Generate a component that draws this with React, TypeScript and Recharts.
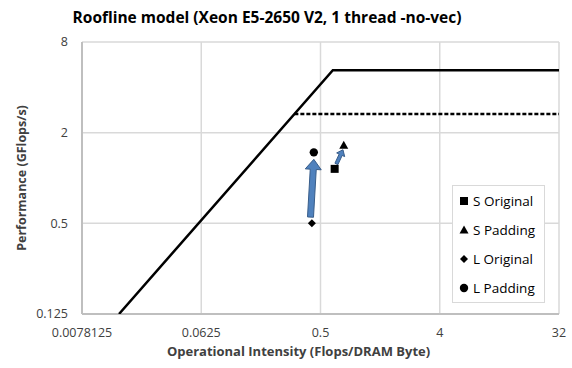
import { ScatterChart, Scatter, XAxis, YAxis, CartesianGrid, ReferenceLine, Legend } from "recharts";

const xTicks = [0.0078125, 0.0625, 0.5, 4, 32];
const yTicks = [0.125, 0.5, 2, 8];

// roofline: memory-bound slope, then compute roof
const roofline = [
  { x: 0.0149, y: 0.125 },
  { x: 0.62, y: 5.2 },
  { x: 32, y: 5.2 },
];
// no-vec ceiling (dashed)
const noVecRoof = [
  { x: 0.317, y: 2.66 },
  { x: 32, y: 2.66 },
];

const sOriginal = [{ x: 0.64, y: 1.15 }];
const sPadding = [{ x: 0.75, y: 1.65 }];
const lOriginal = [{ x: 0.43, y: 0.5 }];
const lPadding = [{ x: 0.445, y: 1.48 }];

const arrowTails = [
  { x: 0.42, y: 0.55 },
  { x: 0.66, y: 1.24 },
];
const arrowTips = [
  { x: 0.445, y: 1.33 },
  { x: 0.74, y: 1.54 },
];

const legendItems = [
  { name: "S Original", shape: "square" },
  { name: "S Padding", shape: "triangle" },
  { name: "L Original", shape: "diamond" },
  { name: "L Padding", shape: "circle" },
];

const FONT = '"Open Sans", "Noto Sans", sans-serif';
const GRID = "#d9d9d9";
const AXIS = "#bfbfbf";
const TEXT = "#404040";

function Marker({ shape, cx, cy }: { shape: string; cx: number; cy: number }) {
  if (shape === "square") return <rect x={cx - 4} y={cy - 4} width={8} height={8} fill="#000" />;
  if (shape === "triangle") return <polygon points={`${cx},${cy - 4.5} ${cx + 4.5},${cy + 3.5} ${cx - 4.5},${cy + 3.5}`} fill="#000" />;
  if (shape === "diamond") return <polygon points={`${cx},${cy - 4} ${cx + 4},${cy} ${cx},${cy + 4} ${cx - 4},${cy}`} fill="#000" />;
  return <circle cx={cx} cy={cy} r={4.2} fill="#000" />;
}

const markerShape = (shape: string) => (props: any) => <Marker shape={shape} cx={props.cx} cy={props.cy} />;

function Arrow(props: any) {
  const { x1, y1, x2, y2 } = props;
  const dx = x2 - x1;
  const dy = y2 - y1;
  const len = Math.sqrt(dx * dx + dy * dy);
  const k = len < 30 ? 0.55 : 1;
  const headL = 10 * k;
  const headW = 8 * k;
  const shaftW = 3 * k;
  const ux = dx / len;
  const uy = dy / len;
  const px = -uy;
  const py = ux;
  const nx = x2 - ux * headL;
  const ny = y2 - uy * headL;
  const pts = [
    [x1 + px * shaftW, y1 + py * shaftW],
    [nx + px * shaftW, ny + py * shaftW],
    [nx + px * headW, ny + py * headW],
    [x2, y2],
    [nx - px * headW, ny - py * headW],
    [nx - px * shaftW, ny - py * shaftW],
    [x1 - px * shaftW, y1 - py * shaftW],
  ]
    .map((p) => p.join(","))
    .join(" ");
  return <polygon points={pts} fill="#4f81bd" stroke="#385d8a" strokeWidth={1} />;
}

function LegendBox() {
  return (
    <div style={{ border: "1px solid #d9d9d9", background: "#fff", width: 91, height: 116 }}>
      <svg width={91} height={116}>
        {legendItems.map((it, i) => (
          <g key={it.name}>
            <Marker shape={it.shape} cx={11} cy={15 + i * 29} />
            <text x={20} y={15 + i * 29} dy="0.35em" fontSize={13.5} fill="#000" fontFamily={FONT}>
              {it.name}
            </text>
          </g>
        ))}
      </svg>
    </div>
  );
}

export default function App() {
  return (
    <div style={{ position: "fixed", left: 0, top: 0, width: 572, height: 368, background: "#fff", fontFamily: FONT }}>
      <div
        style={{
          position: "absolute",
          top: 5,
          left: 47,
          width: 440,
          textAlign: "center",
          fontWeight: 700,
          fontSize: 15.5,
          lineHeight: "24px",
          whiteSpace: "nowrap",
          color: "#000",
        }}
      >
        Roofline model (Xeon E5-2650 V2, 1 thread -no-vec)
      </div>
      <ScatterChart width={572} height={368} margin={{ top: 42, right: 13, left: 0, bottom: 0 }}>
        <CartesianGrid stroke={GRID} strokeWidth={1.5} horizontalValues={yTicks} verticalValues={xTicks} />
        <XAxis
          type="number"
          dataKey="x"
          scale="log"
          domain={[0.0078125, 32]}
          ticks={xTicks}
          allowDataOverflow
          height={54}
          tickLine={false}
          axisLine={{ stroke: AXIS, strokeWidth: 2 }}
          tickMargin={8}
          tick={{ fill: TEXT, fontSize: 12.5 }}
          tickFormatter={(v) => String(v)}
          label={{
            content: (p: any) => (
              <text
                x={p.viewBox.x + p.viewBox.width / 2 - 22}
                y={p.viewBox.y + 42}
                textAnchor="middle"
                fontWeight={700}
                fontSize={13}
                fill={TEXT}
              >
                Operational Intensity (Flops/DRAM Byte)
              </text>
            ),
          }}
        />
        <YAxis
          type="number"
          dataKey="y"
          scale="log"
          domain={[0.125, 8]}
          ticks={yTicks}
          allowDataOverflow
          width={82}
          tickLine={false}
          axisLine={{ stroke: AXIS, strokeWidth: 2 }}
          tickMargin={8}
          tick={{ fill: TEXT, fontSize: 12.5 }}
          tickFormatter={(v) => String(v)}
          label={{
            content: (p: any) => {
              const cx = p.viewBox.x + 22;
              const cy = p.viewBox.y + p.viewBox.height / 2;
              return (
                <text
                  x={cx}
                  y={cy}
                  transform={`rotate(-90 ${cx} ${cy})`}
                  textAnchor="middle"
                  dy="0.35em"
                  fontWeight={700}
                  fontSize={12.5}
                  fill={TEXT}
                >
                  Performance (GFlops/s)
                </text>
              );
            },
          }}
        />
        <Scatter
          data={roofline}
          line={{ stroke: "#000", strokeWidth: 2.5 }}
          shape={() => <g />}
          legendType="none"
          isAnimationActive={false}
        />
        <Scatter
          data={noVecRoof}
          line={{ stroke: "#000", strokeWidth: 2.5, strokeDasharray: "4 2" }}
          shape={() => <g />}
          legendType="none"
          isAnimationActive={false}
        />
        {arrowTails.map((t, i) => (
          <ReferenceLine key={i} segment={[t, arrowTips[i]]} shape={Arrow} ifOverflow="visible" />
        ))}
        <Scatter name="S Original" data={sOriginal} shape={markerShape("square")} isAnimationActive={false} />
        <Scatter name="S Padding" data={sPadding} shape={markerShape("triangle")} isAnimationActive={false} />
        <Scatter name="L Original" data={lOriginal} shape={markerShape("diamond")} isAnimationActive={false} />
        <Scatter name="L Padding" data={lPadding} shape={markerShape("circle")} isAnimationActive={false} />
        <Legend
          layout="vertical"
          align="center"
          verticalAlign="middle"
          wrapperStyle={{ position: "absolute", left: 452, top: 185, width: 93, height: 118 }}
          content={() => <LegendBox />}
        />
      </ScatterChart>
    </div>
  );
}
